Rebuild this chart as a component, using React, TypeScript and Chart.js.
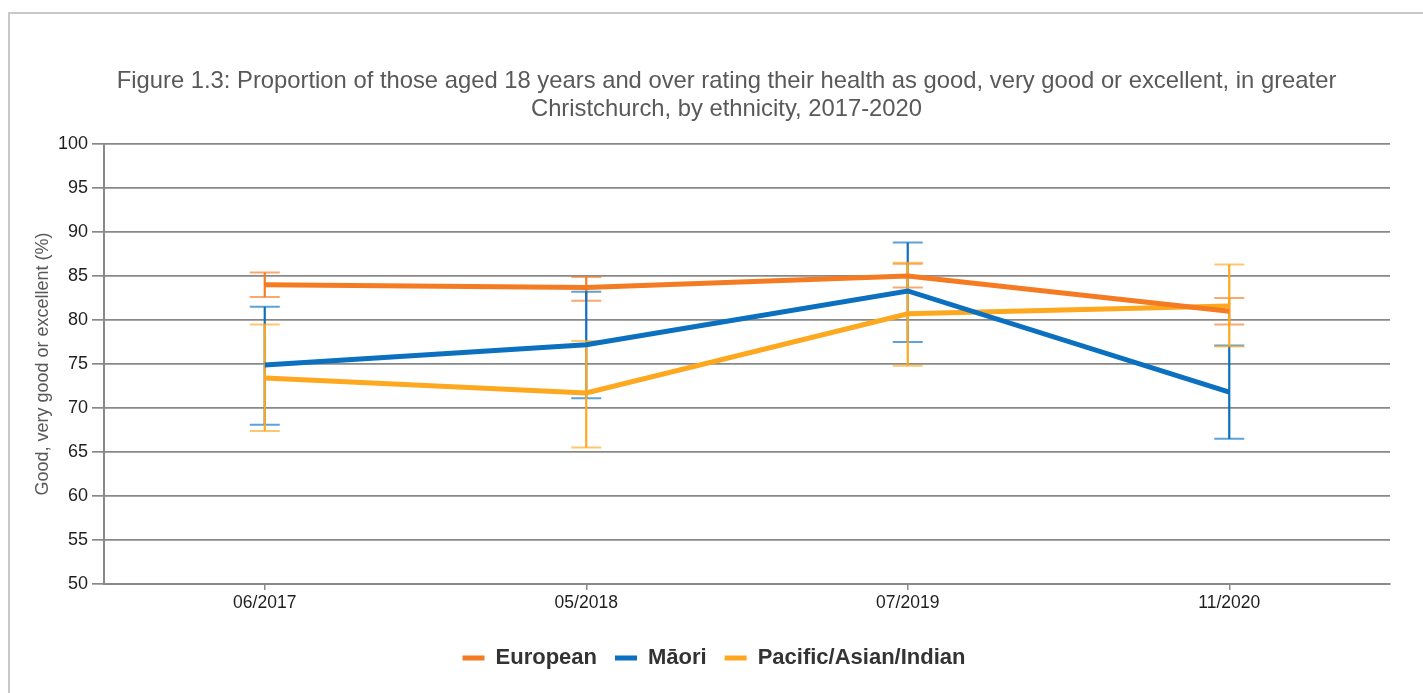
import React, { useEffect, useRef } from "react";
import { Chart, registerables } from "chart.js";

Chart.register(...registerables);

const categories = ["06/2017", "05/2018", "07/2019", "11/2020"];

const europeanValues = [84.0, 83.7, 85.0, 81.0];
const europeanLow = [82.6, 82.2, 83.7, 79.5];
const europeanHigh = [85.4, 84.9, 86.4, 82.5];

const maoriValues = [74.9, 77.2, 83.3, 71.8];
const maoriLow = [68.1, 71.1, 77.5, 66.5];
const maoriHigh = [81.5, 83.2, 88.8, 77.1];

const pacificValues = [73.4, 71.7, 80.7, 81.6];
const pacificLow = [67.4, 65.5, 74.8, 77.0];
const pacificHigh = [79.5, 77.6, 86.5, 86.3];

const seriesNames = ["European", "Māori", "Pacific/Asian/Indian"];
const seriesColors = ["#F47B22", "#0A70BF", "#FDA81F"];

const yMin = 50;
const yMax = 100;
const yStep = 5;

const titleLines = [
  "Figure 1.3: Proportion of those aged 18 years and over rating their health as good, very good or excellent, in greater",
  "Christchurch, by ethnicity, 2017-2020",
];
const yAxisTitle = "Good, very good or excellent (%)";

const FONT = "'Liberation Sans', Arial, sans-serif";

const errorBarPlugin = {
  id: "errorBars",
  beforeDatasetsDraw(chart: any) {
    const ctx = chart.ctx;
    const yScale = chart.scales.y;
    chart.data.datasets.forEach((ds: any, di: number) => {
      const meta = chart.getDatasetMeta(di);
      if (meta.hidden) return;
      ds.errLow.forEach((lo: number, i: number) => {
        const hi = ds.errHigh[i];
        const pt = meta.data[i];
        if (!pt) return;
        const x = pt.x;
        const yLo = yScale.getPixelForValue(lo);
        const yHi = yScale.getPixelForValue(hi);
        ctx.save();
        ctx.strokeStyle = ds.borderColor;
        ctx.lineWidth = 2.2;
        ctx.beginPath();
        ctx.moveTo(x, yHi);
        ctx.lineTo(x, yLo);
        ctx.stroke();
        ctx.globalAlpha = 0.65;
        ctx.lineWidth = 2;
        ctx.beginPath();
        ctx.moveTo(x - 15, yHi);
        ctx.lineTo(x + 15, yHi);
        ctx.moveTo(x - 15, yLo);
        ctx.lineTo(x + 15, yLo);
        ctx.stroke();
        ctx.restore();
      });
    });
  },
};

const titlePlugin = {
  id: "customTitle",
  afterDraw(chart: any) {
    const ctx = chart.ctx;
    ctx.save();
    ctx.fillStyle = "#595959";
    ctx.font = `23.8px ${FONT}`;
    ctx.textAlign = "center";
    ctx.textBaseline = "middle";
    const cx = chart.width / 2 + 15;
    titleLines.forEach((line, i) => {
      ctx.fillText(line, cx, 81 + i * 28);
    });
    ctx.restore();
  },
};

const legendShiftPlugin = {
  id: "legendShift",
  afterLayout(chart: any) {
    if (chart.legend) {
      chart.legend.left += 6;
      chart.legend.right += 6;
    }
  },
};

export default function App() {
  const canvasRef = useRef<HTMLCanvasElement | null>(null);

  useEffect(() => {
    const canvas = canvasRef.current;
    if (!canvas) return;
    const makeDs = (label: string, data: number[], lo: number[], hi: number[], color: string) => ({
      label,
      data,
      errLow: lo,
      errHigh: hi,
      borderColor: color,
      backgroundColor: color,
      borderWidth: 5,
      pointRadius: 0,
      pointHoverRadius: 0,
      tension: 0,
      fill: false,
    });
    const chart = new Chart(canvas, {
      type: "line",
      data: {
        labels: categories,
        datasets: [
          makeDs(seriesNames[0], europeanValues, europeanLow, europeanHigh, seriesColors[0]),
          makeDs(seriesNames[1], maoriValues, maoriLow, maoriHigh, seriesColors[1]),
          makeDs(seriesNames[2], pacificValues, pacificLow, pacificHigh, seriesColors[2]),
        ] as any,
      },
      options: {
        responsive: false,
        animation: false,
        layout: { padding: { left: 26, right: 33, top: 144, bottom: 14 } },
        plugins: {
          title: { display: false },
          tooltip: { enabled: false },
          legend: {
            position: "bottom",
            labels: {
              usePointStyle: true,
              pointStyle: "line",
              pointStyleWidth: 22,
              padding: 18,
              color: "#333333",
              font: { family: FONT, size: 22, weight: "bold" },
            },
          },
        },
        scales: {
          x: {
            type: "category",
            offset: true,
            afterFit(scale: any) {
              scale.height = 45;
            },
            grid: {
              offset: false,
              drawOnChartArea: false,
              drawTicks: true,
              tickLength: 6,
              color: "#8a8a8a",
              lineWidth: 1.5,
            },
            border: { display: true, color: "#8a8a8a", width: 2 },
            ticks: {
              color: "#1e1e1e",
              padding: 3,
              maxRotation: 0,
              font: { family: FONT, size: 17.5 },
            },
          },
          y: {
            min: yMin,
            max: yMax,
            afterFit(scale: any) {
              scale.width = 78;
            },
            ticks: {
              stepSize: yStep,
              color: "#1e1e1e",
              padding: 4,
              font: { family: FONT, size: 18 },
            },
            grid: {
              color: "#888888",
              lineWidth: 1.7,
              tickLength: 12,
            },
            border: { display: true, color: "#888888", width: 2 },
            title: {
              display: true,
              text: yAxisTitle,
              color: "#595959",
              padding: { top: 6, bottom: 0 },
              font: { family: FONT, size: 18 },
            },
          },
        },
      },
      plugins: [errorBarPlugin, titlePlugin, legendShiftPlugin],
    });
    return () => chart.destroy();
  }, []);

  return (
    <div
      style={{
        position: "fixed",
        left: 0,
        top: 0,
        width: 1423,
        height: 693,
        overflow: "hidden",
        background: "#ffffff",
      }}
    >
      <div
        style={{
          position: "absolute",
          left: 8,
          top: 12,
          width: 1440,
          height: 720,
          border: "2px solid #c8c8c8",
          boxSizing: "border-box",
        }}
      />
      <canvas
        ref={canvasRef}
        width={1423}
        height={693}
        style={{ position: "absolute", left: 0, top: 0, display: "block" }}
      />
    </div>
  );
}
